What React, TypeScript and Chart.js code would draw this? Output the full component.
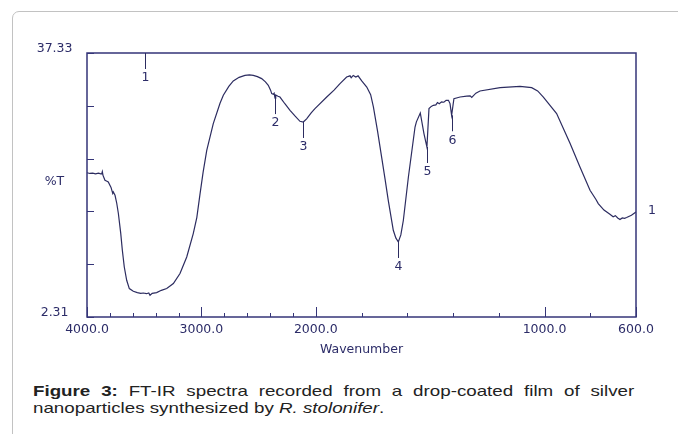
import React, { useEffect, useRef } from 'react';
import { Chart, registerables } from 'chart.js';

Chart.register(...registerables);

// ---- data (wavenumber in cm-1, %T) ----
const wavenumbers = [
  4000, 3975, 3950, 3925, 3900, 3880, 3871, 3866, 3860, 3843, 3830, 3814, 3790, 3775, 3770, 3755, 3740,
  3726, 3705, 3691, 3674, 3653, 3630, 3595, 3560, 3530, 3508, 3480, 3460, 3449, 3430, 3391, 3350,
  3303, 3245, 3187, 3128, 3071, 3040, 3012, 2985, 2953, 2896, 2837, 2808, 2760, 2721, 2670, 2619,
  2580, 2546, 2510, 2473, 2440, 2415, 2395, 2385, 2371, 2364, 2356, 2350, 2330, 2313, 2270, 2225,
  2180, 2138, 2109, 2080, 2040, 2007, 1952, 1920, 1894, 1865, 1850, 1845, 1836, 1825, 1815, 1799,
  1777, 1760, 1748, 1730, 1712, 1697, 1683, 1661, 1650, 1639, 1628, 1617, 1595, 1566, 1560, 1543,
  1527, 1514, 1505, 1495, 1486, 1475, 1468, 1460, 1450, 1440, 1430, 1420, 1413, 1406, 1396, 1369,
  1340, 1325, 1318, 1300, 1282, 1194, 1107, 1056, 1030, 1005, 947, 888, 845, 801, 775, 765, 740,
  714, 700, 690, 680, 670, 660, 650, 641, 620, 600,
];
const transmittance = [
  21.45, 21.35, 21.4, 21.3, 21.38, 21.3, 21.33, 21.6, 21.1, 20.44, 20.35, 20.22, 19.5, 18.7, 18.89, 18.45, 17.4,
  16.07, 13.41, 11.16, 8.94, 7.18, 6.08, 5.72, 5.55, 5.45, 5.49, 5.4, 5.5, 5.2, 5.45, 5.55, 5.85,
  6.08, 6.74, 8.07, 10.27, 13.37, 15.5, 18.6, 21.5, 24.42, 27.96, 30.66, 31.72, 32.9, 33.62, 34.1, 34.37,
  34.42, 34.37, 34.2, 33.93, 33.5, 33.05, 32.4, 31.94, 31.85, 32.0, 31.35, 31.75, 31.6, 31.49, 30.6, 29.73,
  28.95, 28.27, 28.18, 28.6, 29.4, 29.95, 31.49, 32.4, 33.27, 34.15, 34.3, 34.05, 34.35, 34.15, 34.3, 33.62,
  32.82, 31.8, 30.17, 27.0, 23.53, 20.6, 17.79, 13.81, 12.8, 12.26, 13.2, 15.14, 20.88, 27.51, 28.2, 29.37,
  26.64, 24.86, 29.95, 30.25, 30.39, 30.45, 30.75, 30.6, 30.85, 30.8, 31.05, 31.06, 30.62, 29.07, 31.28, 31.49,
  31.6, 31.65, 31.45, 32.0, 32.29, 32.74, 32.91, 32.74, 32.3, 31.49, 29.29, 25.31, 22.21, 19.12, 17.9, 17.35, 16.5,
  15.93, 15.6, 15.75, 15.45, 15.23, 15.45, 15.4, 15.5, 15.8, 16.24,
];

const xTickWavenumbers = [4000, 3800, 3600, 3400, 3200, 3000, 2800, 2600, 2400, 2200, 2000, 1800, 1600, 1400, 1200, 1000, 800, 600];
const xLabeledWavenumbers = [4000, 3000, 2000, 1000, 600];
const yMin = 2.31;
const yMax = 37.33;
const yTickValues = [2.31, 9.314, 16.318, 23.322, 30.326, 37.33];
const yLabeledValues = [2.31, 37.33];
const peakLabels = ['1', '2', '3', '4', '5', '6'];
const peakWavenumbers = [3490, 2356, 2109, 1639, 1514, 1406];
const endLabel = '1';
const xTitle = 'Wavenumber';
const yTitle = '%T';

// FT-IR abscissa: 4000-2000 compressed (half scale), 2000-600 full scale
const toU = (w: number) => (w >= 2000 ? (4000 - w) / 2 : 1000 + (2000 - w));
const fromU = (u: number) => (u <= 1000 ? 4000 - 2 * u : 2000 - (u - 1000));

const AXIS = '#353578';
const LINE = '#2c2c60';
const TEXT = '#2c2c68';
const FONT = 'DejaVu Sans';

const decorPlugin = {
  id: 'ftirDecor',
  afterDatasetsDraw(chart: any) {
    const { ctx, chartArea: a, scales } = chart;
    const x = scales.x;
    const y = scales.y;
    ctx.save();
    ctx.strokeStyle = AXIS;
    ctx.lineWidth = 1.5;
    ctx.strokeRect(a.left, a.top, a.right - a.left, a.bottom - a.top);
    ctx.lineWidth = 1;
    x.ticks.forEach((t: any) => {
      const w = Math.round(fromU(t.value));
      const px = Math.round(x.getPixelForValue(t.value)) + 0.5;
      const len = xLabeledWavenumbers.includes(w) ? 10 : 4;
      ctx.beginPath();
      ctx.moveTo(px, a.bottom);
      ctx.lineTo(px, a.bottom - len);
      ctx.stroke();
    });
    y.ticks.forEach((t: any) => {
      const py = Math.round(y.getPixelForValue(t.value)) + 0.5;
      ctx.beginPath();
      ctx.moveTo(a.left, py);
      ctx.lineTo(a.left + 7, py);
      ctx.stroke();
    });
    ctx.fillStyle = TEXT;
    ctx.font = `12.5px "${FONT}"`;
    ctx.textAlign = 'center';
    ctx.textBaseline = 'middle';
    ctx.fillText(yTitle, 54.5, (a.top + a.bottom) / 2 - 3);
    // peak markers
    ctx.strokeStyle = LINE;
    peakWavenumbers.forEach((w, i) => {
      const px = Math.round(x.getPixelForValue(toU(w))) + 0.5;
      const idx = wavenumbers.indexOf(w);
      const y0 = idx >= 0 ? y.getPixelForValue(transmittance[idx]) : a.top;
      ctx.beginPath();
      ctx.moveTo(px, y0);
      ctx.lineTo(px, y0 + 16);
      ctx.stroke();
      ctx.fillText(peakLabels[i], px, y0 + 25);
    });
    const last = transmittance[transmittance.length - 1];
    ctx.fillText(endLabel, a.right + 16, y.getPixelForValue(last) - 1);
    ctx.restore();
  },
};

export default function App() {
  const ref = useRef<HTMLCanvasElement>(null);
  useEffect(() => {
    if (!ref.current) return;
    Chart.defaults.font.family = FONT;
    const chart = new Chart(ref.current, {
      type: 'line',
      data: {
        datasets: [
          {
            data: wavenumbers.map((w, i) => ({ x: toU(w), y: transmittance[i] })),
            borderColor: LINE,
            borderWidth: 1.2,
            pointRadius: 0,
            fill: false,
            tension: 0,
          },
        ],
      },
      options: {
        animation: false,
        responsive: false,
        maintainAspectRatio: false,
        layout: { padding: { top: 53, right: 42, left: 0, bottom: 0 } },
        plugins: { legend: { display: false }, tooltip: { enabled: false } },
        scales: {
          x: {
            type: 'linear',
            min: 0,
            max: 2400,
            grid: { display: false, drawTicks: false },
            border: { display: false },
            afterBuildTicks: (s: any) => {
              s.ticks = xTickWavenumbers.map((w) => ({ value: toU(w) }));
            },
            afterFit: (s: any) => {
              s.height = 43;
            },
            ticks: {
              autoSkip: false,
              maxRotation: 0,
              padding: 5,
              color: TEXT,
              font: { size: 12.5, family: FONT },
              callback: (v: any) => {
                const w = Math.round(fromU(Number(v)));
                return xLabeledWavenumbers.includes(w) ? w.toFixed(1) : '';
              },
            },
            title: {
              display: true,
              text: xTitle,
              color: TEXT,
              font: { size: 12.5, family: FONT },
              padding: { top: 0, bottom: 3 },
            },
          },
          y: {
            type: 'linear',
            min: yMin,
            max: yMax,
            grid: { display: false, drawTicks: false },
            border: { display: false },
            afterBuildTicks: (s: any) => {
              s.ticks = yTickValues.map((v) => ({ value: v }));
            },
            afterFit: (s: any) => {
              s.width = 87;
            },
            ticks: {
              autoSkip: false,
              crossAlign: 'center',
              padding: 14.5,
              labelOffset: -4,
              color: TEXT,
              font: { size: 12.5, family: FONT },
              callback: (v: any) => {
                const n = Number(v);
                return yLabeledValues.some((l) => Math.abs(l - n) < 1e-6) ? n.toFixed(2) : '';
              },
            },
          },
        },
      },
      plugins: [decorPlugin],
    } as any);
    return () => chart.destroy();
  }, []);

  return (
    <div
      style={{
        position: 'absolute',
        left: 0,
        top: 0,
        width: 678,
        height: 434,
        overflow: 'hidden',
        background: '#fff',
      }}
    >
      <div
        style={{
          position: 'absolute',
          left: 12,
          top: 11,
          width: 900,
          height: 700,
          border: '1px solid #c2c2c2',
          borderRadius: 7,
          boxSizing: 'border-box',
        }}
      />
      <canvas ref={ref} width={678} height={360} style={{ position: 'absolute', left: 0, top: 0, width: 678, height: 360 }} />
      <div
        style={{
          position: 'absolute',
          left: 33,
          top: 381.5,
          width: 481,
          fontFamily: '"Liberation Sans", Arial, sans-serif',
          fontSize: 15,
          lineHeight: '17px',
          color: '#222',
          textAlign: 'justify',
          transform: 'scaleX(1.25)',
          transformOrigin: 'left top',
        }}
      >
        <b>Figure 3:</b> FT-IR spectra recorded from a drop-coated film of silver nanoparticles synthesized by{' '}
        <i>R. stolonifer</i>.
      </div>
    </div>
  );
}
